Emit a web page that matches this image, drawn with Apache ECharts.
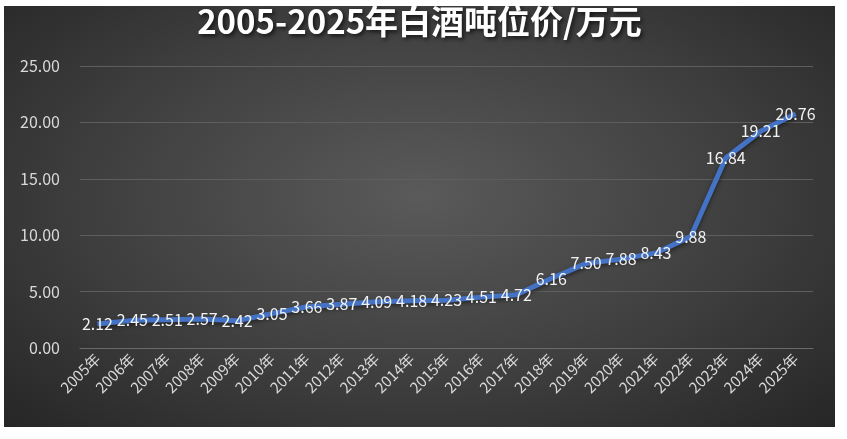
<!DOCTYPE html>
<html>
<head>
<meta charset="utf-8">
<script src="https://cdn.jsdelivr.net/npm/echarts@6/dist/echarts.min.js"></script>
<style>
  html, body { margin: 0; padding: 0; background: #ffffff; }
  #main {
    position: absolute; left: 4px; top: 6px; width: 831px; height: 421px;
    background: radial-gradient(ellipse at 50% 45%, #5a5a5a 0%, #3f3f3f 55%, #262626 100%);
  }
</style>
</head>
<body>
<div id="main"></div>
<script>
var years = ['2005年','2006年','2007年','2008年','2009年','2010年','2011年','2012年','2013年','2014年','2015年','2016年','2017年','2018年','2019年','2020年','2021年','2022年','2023年','2024年','2025年'];
var prices = [2.12, 2.45, 2.51, 2.57, 2.42, 3.05, 3.66, 3.87, 4.09, 4.18, 4.23, 4.51, 4.72, 6.16, 7.50, 7.88, 8.43, 9.88, 16.84, 19.21, 20.76];

var chartDom = document.getElementById('main');
var myChart = echarts.init(chartDom);
var font = '"Noto Sans CJK SC", "Noto Sans", sans-serif';
var option = {
  backgroundColor: 'transparent',
  title: {
    text: '2005-2025年白酒吨位价/万元',
    left: 'center',
    top: -6,
    textStyle: {
      color: '#ffffff',
      fontSize: 33,
      fontWeight: 'bold',
      fontFamily: font,
      textShadowColor: 'rgba(0,0,0,0.7)',
      textShadowBlur: 4,
      textShadowOffsetX: 2,
      textShadowOffsetY: 2
    }
  },
  grid: { left: 76, right: 22, top: 60, bottom: 79 },
  xAxis: {
    type: 'category',
    data: years,
    axisLine: { show: true, lineStyle: { color: '#6a6a6a' } },
    axisTick: { show: false },
    axisLabel: {
      rotate: 45,
      color: '#d9d9d9',
      fontSize: 15,
      fontFamily: font,
      margin: 8,
      interval: 0
    }
  },
  yAxis: {
    type: 'value',
    min: 0,
    max: 25,
    interval: 5,
    axisLine: { show: false },
    axisTick: { show: false },
    splitLine: { lineStyle: { color: '#5e5e5e', width: 1 } },
    axisLabel: {
      color: '#d9d9d9',
      fontSize: 16,
      fontFamily: font,
      margin: 20,
      formatter: function (v) { return v.toFixed(2); }
    }
  },
  series: [
    {
      name: '吨位价',
      type: 'line',
      data: prices,
      showSymbol: true,
      symbol: 'circle',
      symbolSize: 1,
      lineStyle: {
        color: '#4472c4',
        width: 5,
        shadowColor: 'rgba(0,0,0,0.5)',
        shadowBlur: 4,
        shadowOffsetY: 2
      },
      itemStyle: { color: '#4472c4' },
      label: {
        show: true,
        position: 'inside',
        color: '#f2f2f2',
        fontSize: 16,
        fontFamily: font,
        formatter: function (p) { return p.value.toFixed(2); }
      },
      labelLayout: { hideOverlap: false }
    }
  ]
};
option && myChart.setOption(option);
</script>
</body>
</html>
